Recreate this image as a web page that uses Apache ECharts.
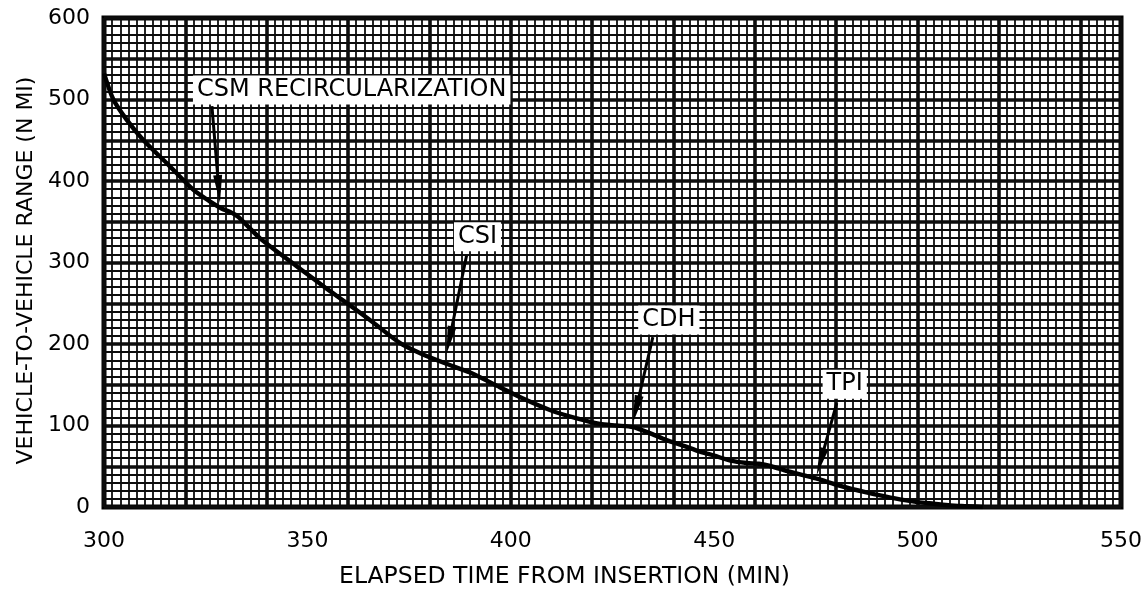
<!DOCTYPE html>
<html>
<head>
<meta charset="utf-8">
<title>Vehicle-to-vehicle range</title>
<script src="https://cdn.jsdelivr.net/npm/echarts@6/dist/echarts.min.js"></script>
<style>
  html, body { margin: 0; padding: 0; background: #fff; }
  #chart { width: 1146px; height: 597px; }
</style>
</head>
<body>
<div id="chart"></div>
<script>
// Elapsed time from insertion (min) and vehicle-to-vehicle range (n mi)
const elapsedMin = [300, 302.3, 305.6, 309.7, 315.4, 322, 326, 329, 331, 333, 338.3, 344, 348, 355, 360, 366, 372.8, 378, 384, 390, 397.3, 403, 409.6, 416, 421.9, 426, 430, 434, 438.3, 442, 446.5, 450, 454, 458, 461, 464, 468, 475, 481, 487.4, 492, 496, 500, 504, 508, 512, 516];
const rangeNmi   = [532, 500, 475, 450, 422, 389, 375, 366, 362, 356, 330, 308, 293, 267, 249, 227, 201, 188, 176, 165, 147, 133, 119, 109, 102, 100, 98, 91, 82, 76, 68, 63, 57, 54, 53, 50, 44, 35, 26, 18, 13, 9, 6, 4, 2, 1, 0];

// Maneuver events marked on the curve
const eventNames  = ['CSM RECIRCULARIZATION', 'CSI', 'CDH', 'TPI'];
const eventTimes  = [328.5, 384.2, 430.0, 475.2];
const eventRanges = [373, 188, 103, 39];

// Axis tick labels
const xTicks = [300, 350, 400, 450, 500, 550];
const yTicks = [0, 100, 200, 300, 400, 500, 600];

// Callout geometry in pixels, relative to the arrow tip
const calloutLayout = [
  { tail: [-8, -97],  label: [-27, -113], align: 'left' },
  { tail: [20, -98],  label: [31, -117],  align: 'center' },
  { tail: [20, -86],  label: [36, -103],  align: 'center' },
  { tail: [20, -72],  label: [28, -91],   align: 'center' }
];

const FONT = '"DejaVu Sans", sans-serif';
const X_MIN = xTicks[0], X_MAX = xTicks[xTicks.length - 1];
const Y_MIN = yTicks[0], Y_MAX = yTicks[yTicks.length - 1];

function gridAxis(base, interval, width) {
  return Object.assign({
    type: 'value',
    interval: interval,
    axisLine: { show: false },
    axisTick: { show: false },
    axisLabel: { show: false },
    splitLine: { show: true, lineStyle: { color: '#0d0d0d', width: width } }
  }, base);
}

const curve = elapsedMin.map((t, i) => [t, rangeNmi[i]]);
const events = eventTimes.map((t, i) => [t, eventRanges[i], i]);

const option = {
  animation: false,
  backgroundColor: '#fff',
  grid: {
    left: 104, right: 25, top: 18, bottom: 90,
    show: true, backgroundColor: '#fff', borderColor: '#000', borderWidth: 5
  },
  xAxis: [
    {
      type: 'value', min: X_MIN, max: X_MAX, interval: 50, position: 'bottom',
      axisLine: { show: false }, axisTick: { show: false }, splitLine: { show: false },
      axisLabel: { color: '#000', fontSize: 22, fontFamily: FONT, margin: 23 },
      name: 'ELAPSED TIME FROM INSERTION (MIN)', nameLocation: 'middle', nameGap: 58,
      nameTextStyle: { color: '#000', fontSize: 23.5, fontFamily: FONT, padding: [0, 96, 0, 0] }
    },
    gridAxis({ min: X_MIN, max: X_MAX, position: 'bottom' }, 2, 1.8),
    gridAxis({ min: X_MIN, max: X_MAX, position: 'bottom' }, 20, 3.6)
  ],
  yAxis: [
    {
      type: 'value', min: Y_MIN, max: Y_MAX, interval: 100, position: 'left',
      axisLine: { show: false }, axisTick: { show: false }, splitLine: { show: false },
      axisLabel: { color: '#000', fontSize: 22, fontFamily: FONT, margin: 14 },
      name: 'VEHICLE-TO-VEHICLE RANGE (N MI)', nameLocation: 'middle', nameGap: 67,
      nameRotate: 90,
      nameTextStyle: { color: '#000', fontSize: 22, fontFamily: FONT, padding: [0, 16, 0, 0] }
    },
    gridAxis({ min: Y_MIN, max: Y_MAX, position: 'left' }, 10, 1.8),
    gridAxis({ min: Y_MIN, max: Y_MAX, position: 'left' }, 50, 3.6)
  ],
  series: [
    {
      name: 'Range',
      type: 'line',
      xAxisIndex: 0, yAxisIndex: 0,
      data: curve,
      showSymbol: false,
      smooth: 0.25,
      lineStyle: { color: '#000', width: 4.4 },
      z: 5
    },
    {
      name: 'Events',
      type: 'custom',
      xAxisIndex: 0, yAxisIndex: 0,
      data: events,
      clip: false,
      z: 10,
      renderItem: function (params, api) {
        const idx = api.value(2);
        const tip = api.coord([api.value(0), api.value(1)]);
        const lay = calloutLayout[idx];
        const tail = [tip[0] + lay.tail[0], tip[1] + lay.tail[1]];
        const dx = tip[0] - tail[0], dy = tip[1] - tail[1];
        const len = Math.sqrt(dx * dx + dy * dy);
        const ux = dx / len, uy = dy / len;
        const headLen = 28, halfW = 4.5;
        const bx = tip[0] - ux * headLen, by = tip[1] - uy * headLen;
        const px = -uy, py = ux;
        return {
          type: 'group',
          children: [
            {
              type: 'line',
              shape: { x1: tail[0], y1: tail[1], x2: bx + ux * 2, y2: by + uy * 2 },
              style: { stroke: '#000', lineWidth: 3 }
            },
            {
              type: 'polygon',
              shape: { points: [[tip[0], tip[1]], [bx + px * halfW, by + py * halfW], [bx - px * halfW, by - py * halfW]] },
              style: { fill: '#000' }
            },
            {
              type: 'text',
              x: tip[0] + lay.label[0],
              y: tip[1] + lay.label[1],
              style: {
                text: eventNames[idx],
                fill: '#000',
                font: '24px ' + FONT,
                align: lay.align,
                verticalAlign: 'middle',
                backgroundColor: '#fff',
                padding: [3, 4, 2, 4]
              }
            }
          ]
        };
      }
    }
  ]
};

const chart = echarts.init(document.getElementById('chart'), null, { renderer: 'canvas' });
chart.setOption(option);
</script>
</body>
</html>
